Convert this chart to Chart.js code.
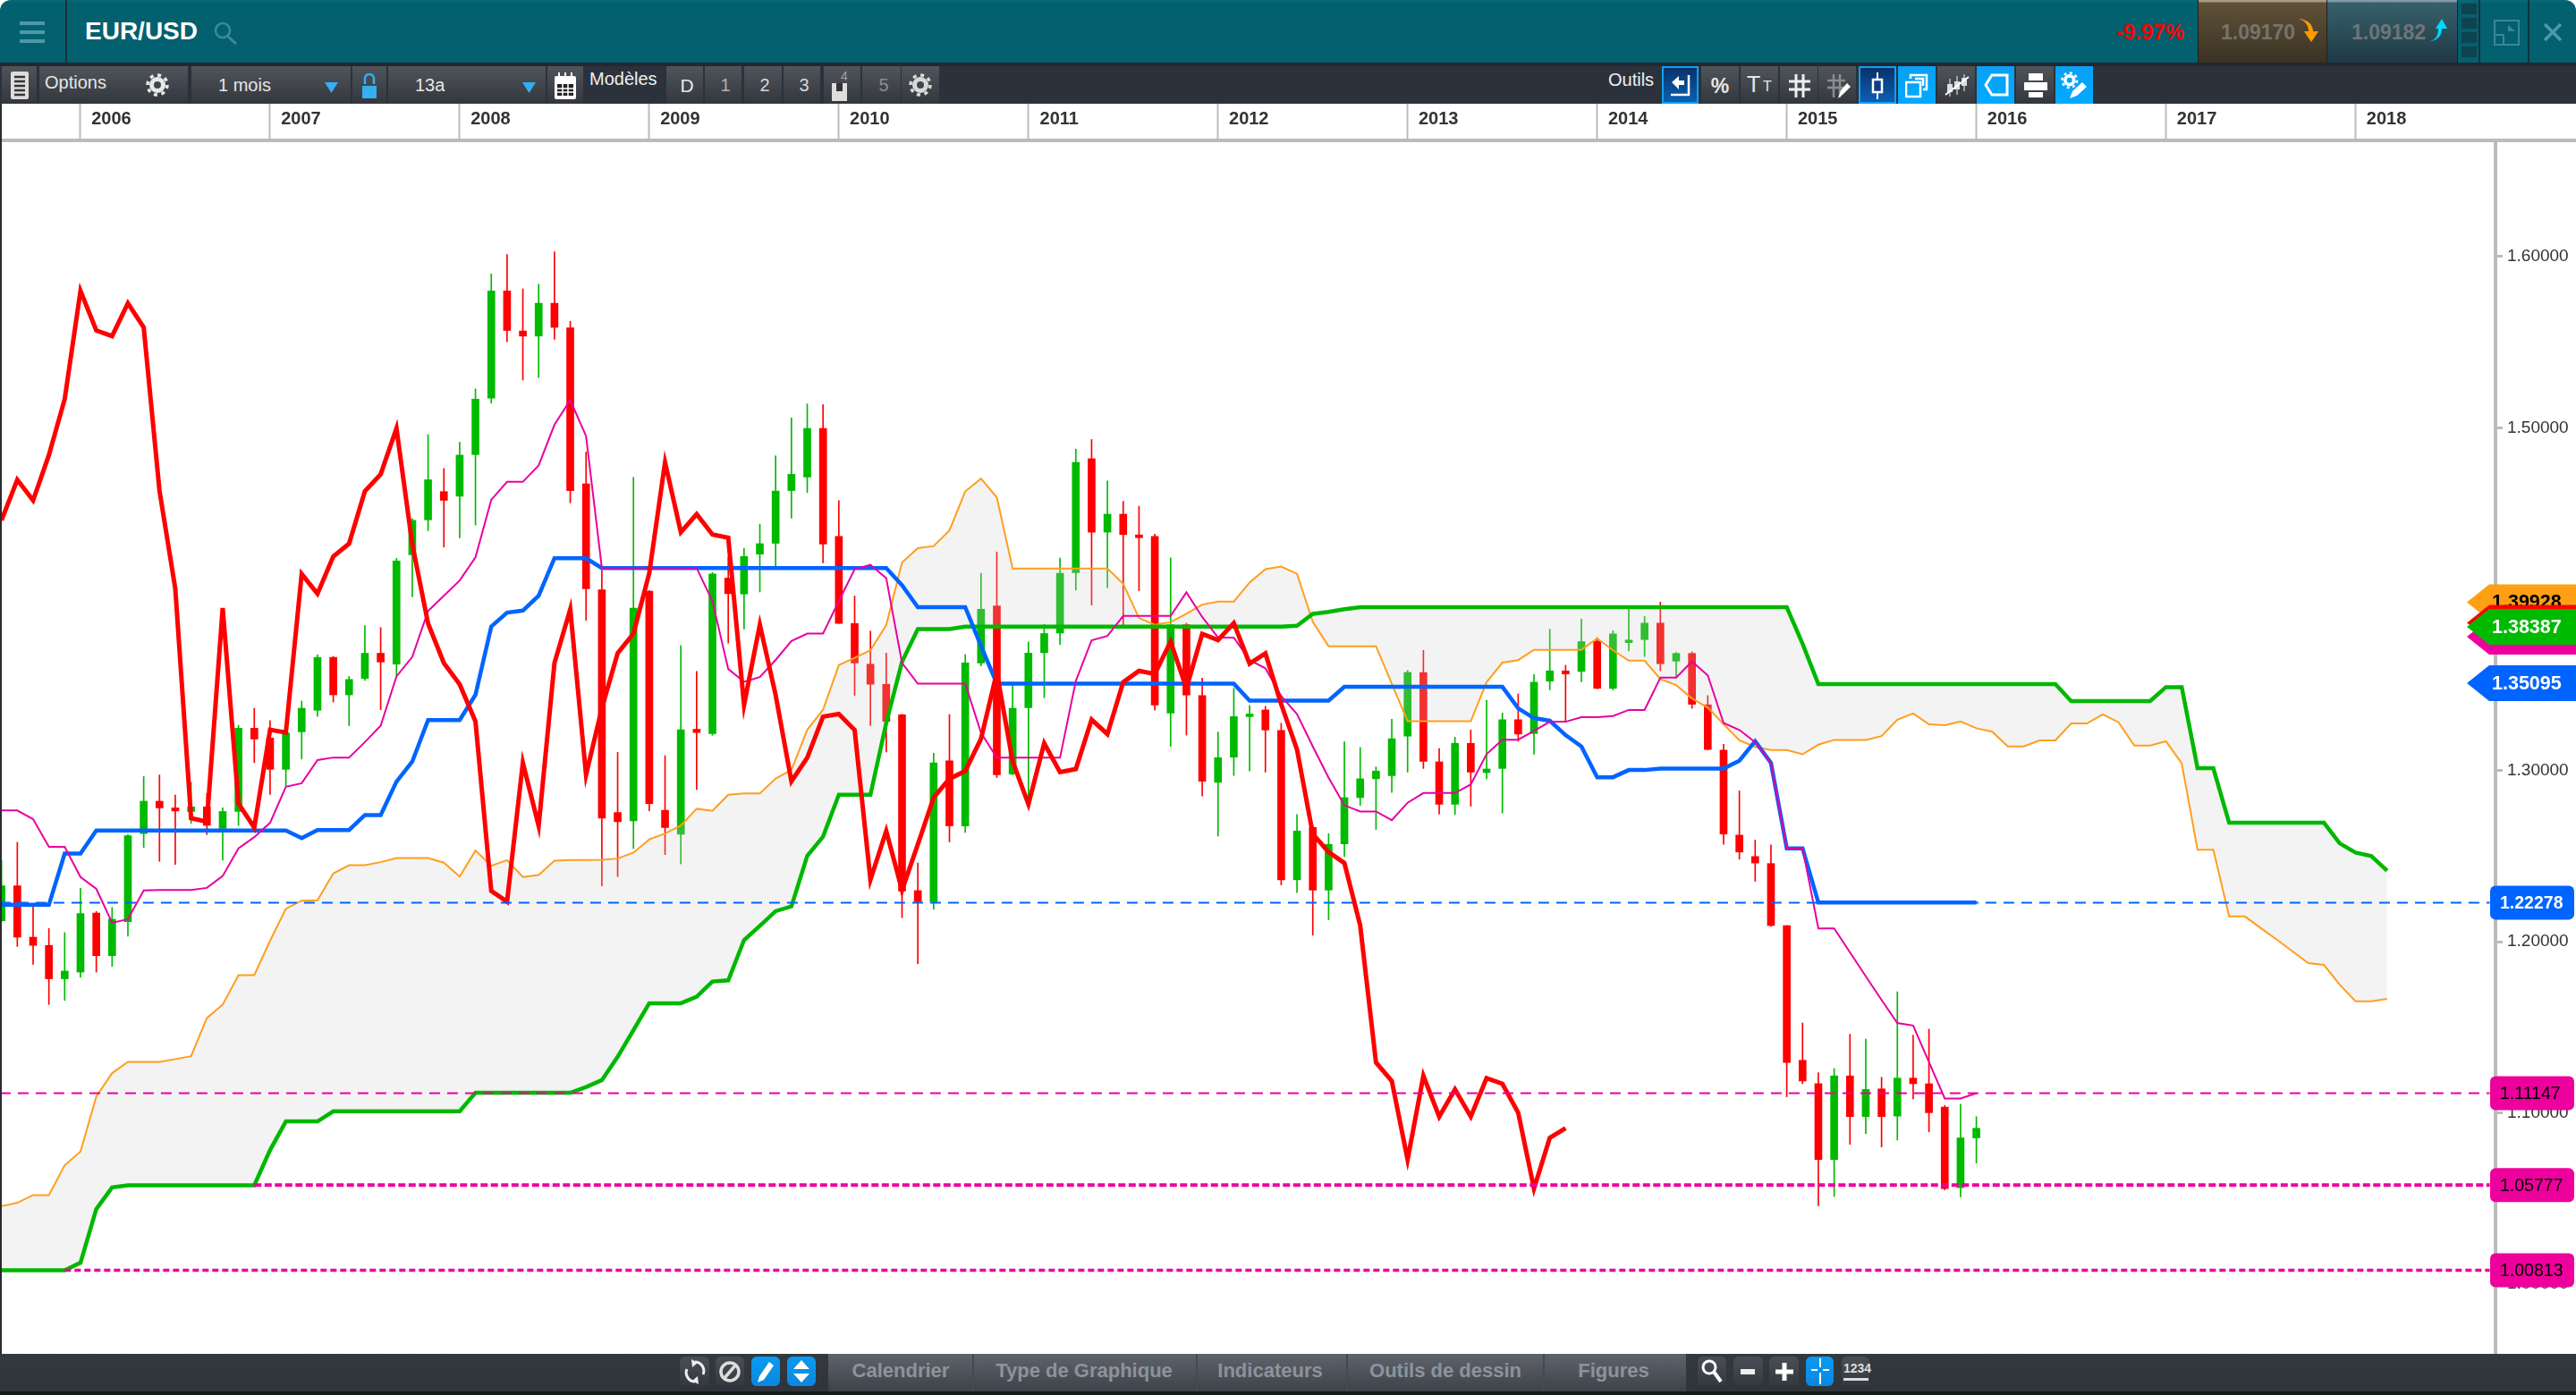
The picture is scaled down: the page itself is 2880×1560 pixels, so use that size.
<!DOCTYPE html>
<html lang="fr">
<head>
<meta charset="utf-8">
<title>EUR/USD</title>
<script src="https://cdn.jsdelivr.net/npm/chart.js@4/dist/chart.umd.js"></script>
<style>
  html, body { margin: 0; padding: 0; background: #fff; overflow: hidden; }
  body { width: 2880px; height: 1560px; position: relative; font-family: "Liberation Sans", Arial, sans-serif; }
  #screen div, #screen svg { position: absolute; }
  canvas { position: absolute; left: 0; top: 116px; }
  .txt { white-space: nowrap; line-height: 1; }
  .btn { top: 74px; height: 42px; background: linear-gradient(#50545b, #33373d); }
  .sel { background: linear-gradient(#0a2f66, #0a62b8); box-shadow: inset 0 0 0 2px #10a0f0; }
  .blue { background: linear-gradient(#0aa0f5, #00aaff); }
  .low { top: 1517px; height: 33px; border-radius: 6px; background: linear-gradient(#4a4f55, #33383e); }
  .lowblue { background: linear-gradient(#0a9bf0, #0a86e0); }
</style>
</head>
<body>
<div id="screen"></div>
<canvas id="chart" width="2880" height="1398"></canvas>
<script>
// candles, one per month, first one is Aug 2005 (index -5), index 0 is Jan 2006
const firstIndex = -5;

const opens = [
  1.2122, 1.2326, 1.2026, 1.1978, 1.1783,
  1.1822, 1.2167, 1.1918, 1.2116, 1.2631, 1.2820, 1.2781, 1.2760, 1.2787, 1.2661,
  1.2760, 1.3246, 1.3189, 1.3006, 1.3225, 1.3351, 1.3660, 1.3441, 1.3537, 1.3684,
  1.3621, 1.4259, 1.4463, 1.4628, 1.4601, 1.4844, 1.5174, 1.5800, 1.5566, 1.5536,
  1.5728, 1.5584, 1.4673, 1.4055, 1.2754, 1.2706, 1.4046, 1.2767, 1.2627, 1.3240,
  1.3214, 1.4123, 1.4030, 1.4263, 1.4326, 1.4634, 1.4713, 1.4997, 1.4366, 1.3858,
  1.3620, 1.3503, 1.3324, 1.2298, 1.2233, 1.3056, 1.2676, 1.3627, 1.3960, 1.2979,
  1.3366, 1.3687, 1.3802, 1.4154, 1.4820, 1.4391, 1.4496, 1.4375, 1.4366, 1.3335,
  1.3851, 1.3437, 1.2930, 1.3077, 1.3314, 1.3353, 1.3233, 1.2361, 1.2667, 1.2301,
  1.2571, 1.2841, 1.2951, 1.2969, 1.3200, 1.3572, 1.3050, 1.2802, 1.3158, 1.2987,
  1.3011, 1.3296, 1.3215, 1.3521, 1.3581, 1.3578, 1.3755, 1.3479, 1.3746, 1.3764,
  1.3860, 1.3638, 1.3683, 1.3383, 1.3119, 1.2622, 1.2497, 1.2456, 1.2094, 1.1307,
  1.1170, 1.0727, 1.1216, 1.0978, 1.1140, 1.0981, 1.1203, 1.1170, 1.1034, 1.0563,
  1.0854
];
const closes = [
  1.2326, 1.2026, 1.1978, 1.1783, 1.1828,
  1.2164, 1.1918, 1.2131, 1.2619, 1.2820, 1.2781, 1.2763, 1.2787, 1.2679, 1.2760,
  1.3246, 1.3183, 1.3006, 1.3219, 1.3363, 1.3660, 1.3441, 1.3531, 1.3684, 1.3633,
  1.4223, 1.4460, 1.4697, 1.4577, 1.4841, 1.5168, 1.5800, 1.5569, 1.5536, 1.5728,
  1.5587, 1.4634, 1.4061, 1.2721, 1.2700, 1.3948, 1.2806, 1.2666, 1.3237, 1.3221,
  1.4147, 1.4032, 1.4249, 1.4324, 1.4631, 1.4729, 1.4997, 1.4321, 1.3858, 1.3627,
  1.3503, 1.3286, 1.2296, 1.2233, 1.3044, 1.2676, 1.3627, 1.3941, 1.2974, 1.3363,
  1.3685, 1.3799, 1.4151, 1.4799, 1.4391, 1.4496, 1.4377, 1.4359, 1.3382, 1.3851,
  1.3440, 1.2936, 1.3074, 1.3314, 1.3329, 1.3236, 1.2361, 1.2646, 1.2301, 1.2568,
  1.2841, 1.2951, 1.2996, 1.3185, 1.3572, 1.3053, 1.2802, 1.3158, 1.2990, 1.3008,
  1.3296, 1.3212, 1.3515, 1.3581, 1.3563, 1.3752, 1.3479, 1.3797, 1.3761, 1.3860,
  1.3623, 1.3683, 1.3386, 1.3122, 1.2628, 1.2523, 1.2459, 1.2094, 1.1294, 1.1186,
  1.0727, 1.1216, 1.0978, 1.1137, 1.0978, 1.1203, 1.1170, 1.1001, 1.0558, 1.0854,
  1.0910
];
const highs = [
  1.2476, 1.2580, 1.2206, 1.2077, 1.2053,
  1.2311, 1.2176, 1.2200, 1.2625, 1.2964, 1.2973, 1.2856, 1.2931, 1.2865, 1.2781,
  1.3264, 1.3363, 1.3291, 1.3231, 1.3405, 1.3675, 1.3666, 1.3549, 1.3846, 1.3834,
  1.4238, 1.4469, 1.4961, 1.4763, 1.4916, 1.5228, 1.5899, 1.6013, 1.5812, 1.5839,
  1.6028, 1.5623, 1.4859, 1.4169, 1.3105, 1.4711, 1.4051, 1.3086, 1.3729, 1.3578,
  1.4156, 1.4245, 1.4296, 1.4438, 1.4837, 1.5058, 1.5140, 1.5135, 1.4575, 1.4018,
  1.3813, 1.3685, 1.3328, 1.2459, 1.3100, 1.3326, 1.3676, 1.4151, 1.4275, 1.3499,
  1.3750, 1.3853, 1.4240, 1.4876, 1.4932, 1.4690, 1.4571, 1.4543, 1.4380, 1.4241,
  1.3860, 1.3539, 1.3224, 1.3479, 1.3380, 1.3374, 1.3275, 1.2742, 1.2676, 1.2631,
  1.3167, 1.3134, 1.3020, 1.3299, 1.3584, 1.3701, 1.3128, 1.3194, 1.3236, 1.3410,
  1.3335, 1.3446, 1.3560, 1.3824, 1.3614, 1.3884, 1.3776, 1.3815, 1.3950, 1.3899,
  1.3983, 1.3689, 1.3692, 1.3437, 1.3152, 1.2880, 1.2593, 1.2565, 1.2094, 1.1525,
  1.1234, 1.1259, 1.1459, 1.1431, 1.1208, 1.1707, 1.1454, 1.1489, 1.1044, 1.1051,
  1.0978
];
const lows = [
  1.2116, 1.1972, 1.1867, 1.1633, 1.1657,
  1.1792, 1.1822, 1.1855, 1.2032, 1.2550, 1.2469, 1.2451, 1.2691, 1.2625, 1.2476,
  1.2679, 1.3045, 1.2859, 1.2910, 1.3066, 1.3315, 1.3399, 1.3261, 1.3525, 1.3354,
  1.3555, 1.4014, 1.4400, 1.4304, 1.4358, 1.4433, 1.5144, 1.5503, 1.5279, 1.5294,
  1.5518, 1.4562, 1.3876, 1.2326, 1.2380, 1.2543, 1.2764, 1.2508, 1.2454, 1.2888,
  1.3205, 1.3743, 1.3825, 1.4042, 1.4186, 1.4473, 1.4622, 1.4212, 1.3858, 1.3438,
  1.3261, 1.3107, 1.2140, 1.1871, 1.2189, 1.2582, 1.2638, 1.3610, 1.2958, 1.2974,
  1.2804, 1.3424, 1.3736, 1.4053, 1.3965, 1.4067, 1.3844, 1.4049, 1.3352, 1.3140,
  1.3206, 1.2850, 1.2616, 1.2970, 1.2996, 1.2990, 1.2331, 1.2286, 1.2037, 1.2127,
  1.2496, 1.2796, 1.2655, 1.2871, 1.2990, 1.3011, 1.2745, 1.2742, 1.2790, 1.2951,
  1.2751, 1.3170, 1.3095, 1.3470, 1.3284, 1.3518, 1.3476, 1.3470, 1.3698, 1.3665,
  1.3581, 1.3539, 1.3362, 1.3119, 1.2568, 1.2481, 1.2352, 1.2089, 1.1094, 1.1170,
  1.0457, 1.0512, 1.0816, 1.0879, 1.0801, 1.0841, 1.1082, 1.0889, 1.0550, 1.0510,
  1.0707
];

// ichimoku lines, they all start at the first candle
const tenkan = [
  1.2766, 1.2766, 1.2715, 1.2553, 1.2553,
  1.2377, 1.2308, 1.2110, 1.2131, 1.2299, 1.2302, 1.2302, 1.2302, 1.2314, 1.2383,
  1.2545, 1.2610, 1.2694, 1.2904, 1.2925, 1.3060, 1.3075, 1.3075, 1.3165, 1.3261,
  1.3549, 1.3663, 1.3930, 1.4020, 1.4109, 1.4244, 1.4580, 1.4685, 1.4685, 1.4781,
  1.5018, 1.5162, 1.4952, 1.4182, 1.4182, 1.4182, 1.4182, 1.4182, 1.4182, 1.4182,
  1.3988, 1.3592, 1.3517, 1.3545, 1.3645, 1.3755, 1.3799, 1.3799, 1.3988, 1.4175,
  1.4200, 1.4123, 1.3627, 1.3506, 1.3506, 1.3506, 1.3506, 1.3219, 1.3074, 1.3074,
  1.3074, 1.3074, 1.3074, 1.3522, 1.3760, 1.3785, 1.3902, 1.3902, 1.3902, 1.3902,
  1.4040, 1.3896, 1.3776, 1.3776, 1.3644, 1.3596, 1.3434, 1.3329, 1.3140, 1.2957,
  1.2796, 1.2760, 1.2760, 1.2709, 1.2811, 1.2868, 1.2868, 1.2868, 1.2918, 1.3095,
  1.3179, 1.3179, 1.3230, 1.3284, 1.3284, 1.3311, 1.3311, 1.3317, 1.3353, 1.3353,
  1.3542, 1.3542, 1.3636, 1.3555, 1.3277, 1.3236, 1.3165, 1.3043, 1.2545, 1.2545,
  1.2077, 1.2077, 1.1937, 1.1798, 1.1659, 1.1525, 1.1510, 1.1297, 1.1084, 1.1084,
  1.1115
];
const kijun = [
  1.2215, 1.2215, 1.2215, 1.2215, 1.2514,
  1.2514, 1.2649, 1.2649, 1.2649, 1.2649, 1.2649, 1.2649, 1.2649, 1.2649, 1.2649,
  1.2649, 1.2649, 1.2649, 1.2649, 1.2604, 1.2652, 1.2652, 1.2652, 1.2739, 1.2739,
  1.2934, 1.3051, 1.3294, 1.3294, 1.3294, 1.3441, 1.3840, 1.3921, 1.3933, 1.4020,
  1.4239, 1.4239, 1.4239, 1.4182, 1.4182, 1.4182, 1.4182, 1.4182, 1.4182, 1.4182,
  1.4182, 1.4182, 1.4182, 1.4182, 1.4182, 1.4182, 1.4182, 1.4182, 1.4182, 1.4182,
  1.4182, 1.4182, 1.4081, 1.3953, 1.3953, 1.3953, 1.3953, 1.3727, 1.3506, 1.3506,
  1.3506, 1.3506, 1.3506, 1.3506, 1.3506, 1.3506, 1.3506, 1.3506, 1.3506, 1.3506,
  1.3506, 1.3506, 1.3506, 1.3506, 1.3407, 1.3407, 1.3407, 1.3407, 1.3407, 1.3407,
  1.3488, 1.3488, 1.3488, 1.3488, 1.3488, 1.3488, 1.3488, 1.3488, 1.3488, 1.3488,
  1.3488, 1.3362, 1.3305, 1.3290, 1.3206, 1.3140, 1.2960, 1.2960, 1.3002, 1.3002,
  1.3011, 1.3011, 1.3011, 1.3011, 1.3011, 1.3056, 1.3170, 1.3043, 1.2545, 1.2545,
  1.2228, 1.2228, 1.2228, 1.2228, 1.2228, 1.2228, 1.2228, 1.2228, 1.2228, 1.2228,
  1.2228
];
const chikou = [
  1.4460, 1.4697, 1.4577, 1.4841, 1.5168,
  1.5800, 1.5569, 1.5536, 1.5728, 1.5587, 1.4634, 1.4061, 1.2721, 1.2700, 1.3948,
  1.2806, 1.2666, 1.3237, 1.3221, 1.4147, 1.4032, 1.4249, 1.4324, 1.4631, 1.4729,
  1.4997, 1.4321, 1.3858, 1.3627, 1.3503, 1.3286, 1.2296, 1.2233, 1.3044, 1.2676,
  1.3627, 1.3941, 1.2974, 1.3363, 1.3685, 1.3799, 1.4151, 1.4799, 1.4391, 1.4496,
  1.4377, 1.4359, 1.3382, 1.3851, 1.3440, 1.2936, 1.3074, 1.3314, 1.3329, 1.3236,
  1.2361, 1.2646, 1.2301, 1.2568, 1.2841, 1.2951, 1.2996, 1.3185, 1.3572, 1.3053,
  1.2802, 1.3158, 1.2990, 1.3008, 1.3296, 1.3212, 1.3515, 1.3581, 1.3563, 1.3752,
  1.3479, 1.3797, 1.3761, 1.3860, 1.3623, 1.3683, 1.3386, 1.3122, 1.2628, 1.2523,
  1.2459, 1.2094, 1.1294, 1.1186, 1.0727, 1.1216, 1.0978, 1.1137, 1.0978, 1.1203,
  1.1170, 1.1001, 1.0558, 1.0854, 1.0910
];
const senkouA = [
  1.0455, 1.0475, 1.0520, 1.0520, 1.0694,
  1.0774, 1.1096, 1.1232, 1.1298, 1.1298, 1.1298, 1.1314, 1.1331, 1.1554, 1.1632,
  1.1804, 1.1804, 1.2005, 1.2192, 1.2239, 1.2241, 1.2398, 1.2446, 1.2446, 1.2464,
  1.2488, 1.2488, 1.2488, 1.2461, 1.2380, 1.2532, 1.2443, 1.2476, 1.2377, 1.2389,
  1.2473, 1.2476, 1.2476, 1.2478, 1.2485, 1.2520, 1.2597, 1.2631, 1.2678, 1.2776,
  1.2764, 1.2858, 1.2865, 1.2865, 1.2953, 1.3002, 1.3237, 1.3354, 1.3615, 1.3657,
  1.3701, 1.3848, 1.4214, 1.4298, 1.4310, 1.4401, 1.4629, 1.4704, 1.4594, 1.4179,
  1.4179, 1.4179, 1.4179, 1.4179, 1.4179, 1.4179, 1.4090, 1.3890, 1.3850, 1.3866,
  1.3914, 1.3968, 1.3986, 1.3986, 1.4097, 1.4175, 1.4190, 1.4148, 1.3866, 1.3725,
  1.3725, 1.3725, 1.3725, 1.3506, 1.3287, 1.3287, 1.3287, 1.3287, 1.3287, 1.3515,
  1.3629, 1.3644, 1.3704, 1.3704, 1.3704, 1.3704, 1.3770, 1.3701, 1.3641, 1.3641,
  1.3533, 1.3498, 1.3420, 1.3366, 1.3270, 1.3175, 1.3137, 1.3119, 1.3119, 1.3094,
  1.3150, 1.3178, 1.3178, 1.3178, 1.3200, 1.3296, 1.3332, 1.3269, 1.3264, 1.3286,
  1.3246, 1.3226, 1.3140, 1.3140, 1.3175, 1.3175, 1.3274, 1.3274, 1.3327, 1.3281,
  1.3145, 1.3145, 1.3170, 1.3041, 1.2537, 1.2537, 1.2147, 1.2147, 1.2079, 1.2013,
  1.1944, 1.1875, 1.1864, 1.1749, 1.1652, 1.1652, 1.1666
];
const senkouB = [
  1.0081, 1.0081, 1.0081, 1.0081, 1.0081,
  1.0125, 1.0438, 1.0565, 1.0577, 1.0577, 1.0577, 1.0577, 1.0577, 1.0577, 1.0577,
  1.0577, 1.0577, 1.0783, 1.0950, 1.0950, 1.0950, 1.1009, 1.1009, 1.1009, 1.1009,
  1.1009, 1.1009, 1.1009, 1.1009, 1.1009, 1.1117, 1.1117, 1.1117, 1.1117, 1.1117,
  1.1117, 1.1117, 1.1151, 1.1191, 1.1327, 1.1483, 1.1640, 1.1640, 1.1640, 1.1678,
  1.1767, 1.1774, 1.2009, 1.2092, 1.2178, 1.2206, 1.2501, 1.2613, 1.2858, 1.2858,
  1.2858, 1.3277, 1.3634, 1.3825, 1.3825, 1.3825, 1.3839, 1.3839, 1.3839, 1.3839,
  1.3839, 1.3839, 1.3839, 1.3839, 1.3839, 1.3839, 1.3839, 1.3839, 1.3839, 1.3839,
  1.3839, 1.3839, 1.3839, 1.3839, 1.3839, 1.3839, 1.3839, 1.3845, 1.3914, 1.3926,
  1.3941, 1.3953, 1.3953, 1.3953, 1.3953, 1.3953, 1.3953, 1.3953, 1.3953, 1.3953,
  1.3953, 1.3953, 1.3953, 1.3953, 1.3953, 1.3953, 1.3953, 1.3953, 1.3953, 1.3953,
  1.3953, 1.3953, 1.3953, 1.3953, 1.3953, 1.3953, 1.3953, 1.3953, 1.3953, 1.3739,
  1.3504, 1.3504, 1.3504, 1.3504, 1.3504, 1.3504, 1.3504, 1.3504, 1.3504, 1.3504,
  1.3504, 1.3504, 1.3504, 1.3504, 1.3504, 1.3504, 1.3405, 1.3405, 1.3405, 1.3405,
  1.3405, 1.3405, 1.3486, 1.3486, 1.3013, 1.3013, 1.2694, 1.2694, 1.2694, 1.2694,
  1.2694, 1.2694, 1.2694, 1.2574, 1.2520, 1.2500, 1.2414
];

// axes
const yearTicks = [0, 12, 24, 36, 48, 60, 72, 84, 96, 108, 120, 132, 144];
const yearLabels = ["2006", "2007", "2008", "2009", "2010", "2011", "2012", "2013", "2014", "2015", "2016", "2017", "2018"];
const priceTicks = [1.0, 1.1, 1.2, 1.3, 1.4, 1.5, 1.6];

// horizontal levels, start index of each
const levelPrices = [1.22278, 1.11147, 1.05777, 1.00813];
const levelStarts = [-5.1, -5.1, 11, -1];
const levelEnd = 152.5;

// tags on the price axis
const flagPrices = [1.3982, 1.3861, 1.3781, 1.38387, 1.35095];
const flagTexts = ["1.39928", "", "", "1.38387", "1.35095"];
const flagColors = ["#ff9f14", "#ff0000", "#ee009c", "#00ba00", "#0064ff"];
const flagInk = ["#000", "#fff", "#fff", "#fff", "#fff"];
const boxPrices = [1.22278, 1.11147, 1.05777, 1.00813];
const boxTexts = ["1.22278", "1.11147", "1.05777", "1.00813"];
const boxColors = ["#0064ff", "#ee009c", "#ee009c", "#ee009c"];
const boxInk = ["#fff", "#000", "#000", "#000"];

const GREEN = "#00ba00";
const RED = "#ff0000";

const toPoints = (values) => values.map((y, k) => ({ x: firstIndex + k, y }));
const candleColors = opens.map((o, k) => (closes[k] >= o ? GREEN : RED));
const bodies = opens.map((o, k) => ({ x: firstIndex + k, y: [o, closes[k]] }));
const wicks = lows.map((l, k) => ({ x: firstIndex + k, y: [l, highs[k]] }));

function lineSet(label, values, color, width, order, extra) {
  return Object.assign({
    type: "line", label, data: toPoints(values), borderColor: color, borderWidth: width,
    pointRadius: 0, tension: 0, fill: false, order, borderJoinStyle: "miter",
  }, extra || {});
}

function levelSet(k, color, width, dash) {
  return {
    type: "line", label: "level " + levelPrices[k], borderColor: color, borderWidth: width, borderDash: dash,
    data: [{ x: levelStarts[k], y: levelPrices[k] }, { x: levelEnd, y: levelPrices[k] }],
    pointRadius: 0, fill: false, order: 0, clip: false,
  };
}

// price tags are drawn on top of the axis, placed through the price scale
const priceTags = {
  id: "priceTags",
  afterDraw(chart) {
    const { ctx, scales } = chart;
    ctx.save();
    ctx.textBaseline = "middle";
    ctx.textAlign = "left";
    ctx.font = "bold 21.5px 'Liberation Sans', Arial, sans-serif";
    flagPrices.forEach((p, k) => {
      const y = scales.y.getPixelForValue(p);
      ctx.fillStyle = flagColors[k];
      ctx.beginPath();
      ctx.moveTo(2758, y);
      ctx.lineTo(2783, y - 20);
      ctx.lineTo(2880, y - 20);
      ctx.lineTo(2880, y + 20);
      ctx.lineTo(2783, y + 20);
      ctx.closePath();
      ctx.fill();
      if (flagTexts[k]) {
        ctx.fillStyle = flagInk[k];
        ctx.fillText(flagTexts[k], 2786, y + 1);
      }
    });
    boxPrices.forEach((p, k) => {
      const y = scales.y.getPixelForValue(p);
      ctx.fillStyle = boxColors[k];
      ctx.beginPath();
      ctx.roundRect(2784, y - 19, 94, 38, 6);
      ctx.fill();
      ctx.fillStyle = boxInk[k];
      ctx.font = (boxInk[k] === "#fff" ? "bold " : "") + "19.5px 'Liberation Sans', Arial, sans-serif";
      ctx.fillText(boxTexts[k], 2795, y + 1);
    });
    ctx.restore();
  },
};

new Chart(document.getElementById("chart").getContext("2d"), {
  data: {
    datasets: [
      { type: "bar", label: "wicks", data: wicks, backgroundColor: candleColors, barThickness: 1, grouped: false, order: 11 },
      { type: "bar", label: "bodies", data: bodies, backgroundColor: candleColors, barThickness: 8, grouped: false, order: 10 },
      lineSet("Senkou A", senkouA, "#ff9f1c", 2, 5, { fill: { target: "+1", above: "rgba(205,205,205,0.24)", below: "rgba(205,205,205,0.24)" } }),
      lineSet("Senkou B", senkouB, "#00b800", 4.5, 4),
      lineSet("Kijun", kijun, "#0064ff", 4.5, 3),
      lineSet("Tenkan", tenkan, "#e800a0", 2, 2),
      lineSet("Chikou", chikou, "#ff0000", 5, 1),
      levelSet(0, "#0064ff", 2, [12, 8]),
      levelSet(1, "#ee009c", 2, [12, 8]),
      levelSet(2, "#ee009c", 4, [8, 3.5]),
      levelSet(3, "#ee009c", 3.5, [7, 4]),
    ],
  },
  options: {
    responsive: false,
    animation: false,
    devicePixelRatio: 1,
    events: [],
    layout: { padding: 0 },
    plugins: { legend: { display: false }, tooltip: { enabled: false }, filler: { propagate: false } },
    scales: {
      x: {
        type: "linear",
        position: "top",
        offset: false,
        min: -5.095,
        max: 152.86,
        afterBuildTicks(scale) { scale.ticks = yearTicks.map((value) => ({ value })); },
        afterFit(scale) { scale.height = 43; scale.paddingLeft = 0; scale.paddingRight = 0; },
        border: { display: false },
        grid: { offset: false, drawOnChartArea: false, drawTicks: true, tickLength: 43, tickWidth: 2, color: "#bbbbbb", tickColor: "#bbbbbb" },
        ticks: {
          autoSkip: false, maxRotation: 0, minRotation: 0, padding: -29.5, labelOffset: 34.5,
          color: "#333333", font: { family: "'Liberation Sans', Arial, sans-serif", size: 20, weight: "bold" },
          callback: (value) => yearLabels[yearTicks.indexOf(value)],
        },
      },
      y: {
        type: "linear",
        position: "right",
        min: 0.95927,
        max: 1.66684,
        afterBuildTicks(scale) { scale.ticks = priceTicks.map((value) => ({ value })); },
        afterFit(scale) { scale.width = 90; scale.paddingTop = 0; scale.paddingBottom = 0; },
        border: { display: true, color: "#bbbbbb", width: 4 },
        grid: { drawOnChartArea: false, drawTicks: true, tickLength: 8, tickWidth: 3, tickColor: "#bbbbbb" },
        ticks: {
          padding: 5, color: "#333333", font: { family: "'Liberation Sans', Arial, sans-serif", size: 19 },
          callback: (value) => value.toFixed(5),
        },
      },
    },
  },
  plugins: [priceTags],
});

// window chrome around the chart
const screenEl = document.getElementById("screen");

function box(x, y, w, h, css, html, cls) {
  const d = document.createElement("div");
  d.style.cssText = `left:${x}px;top:${y}px;width:${w}px;height:${h}px;${css || ""}`;
  if (cls) d.className = cls;
  if (html) d.innerHTML = html;
  screenEl.appendChild(d);
  return d;
}

function label(text, x, y, size, color, weight) {
  const d = document.createElement("div");
  d.className = "txt";
  d.textContent = text;
  d.style.cssText = `left:${x}px;top:${y - size / 2}px;font-size:${size}px;color:${color};font-weight:${weight || "normal"};z-index:5`;
  screenEl.appendChild(d);
  return d;
}

function centered(text, cx, y, size, color, weight) {
  const d = label(text, cx, y, size, color, weight);
  d.style.transform = "translateX(-50%)";
  return d;
}

function svg(x, y, w, h, body) {
  return box(x, y, w, h, "z-index:6", `<svg style="left:0;top:0" width="${w}" height="${h}" viewBox="0 0 ${w} ${h}">${body}</svg>`);
}

// top bar
box(0, 0, 2880, 70, "background:linear-gradient(#0a6a78 0,#03606f 4px);border-radius:12px 12px 0 0");
box(0, 70, 2880, 4, "background:#23272f");
box(73, 0, 2, 70, "background:#16313a");
box(22, 24, 28, 4, "background:#4f98a5");
box(22, 34, 28, 4, "background:#4f98a5");
box(22, 44, 28, 4, "background:#4f98a5");
label("EUR/USD", 95, 35, 28, "#ffffff", "bold");
svg(238, 24, 30, 26, '<circle cx="11" cy="10" r="8" fill="none" stroke="#3f8a98" stroke-width="2.5"/><line x1="16" y1="16" x2="26" y2="25" stroke="#3f8a98" stroke-width="3"/>');
label("-9.97%", 2366, 36, 24, "#ff0000", "bold");
box(2457, 0, 145, 70, "background:linear-gradient(#a89a80 0,#a89a80 2px,#5f5238 3px,#3b3224);border-left:1px solid #222;border-right:1px solid #222;box-sizing:border-box");
box(2602, 0, 146, 70, "background:linear-gradient(#7f9aa3 0,#7f9aa3 2px,#36606b 3px,#1f3a45);border-right:1px solid #222;box-sizing:border-box");
label("1.09170", 2483, 36, 23, "#77736c", "bold");
label("1.09182", 2629, 36, 23, "#6f7578", "bold");
svg(2569, 20, 26, 28, '<path d="M1 1 C12 2 17 8 17 15 L23 15 L15 27 L7 15 L12 15 C12 8 8 3 1 1Z" fill="#ff9a00"/>');
svg(2716, 20, 24, 28, '<path d="M1 26 C10 25 14 19 14 12 L20 12 L14 1 L7 12 L10 12 C10 19 8 24 1 26Z" fill="#00d8ff"/>');
[4, 20, 36, 52].forEach((y) => box(2752, y, 17, 12, "background:#0e4350"));
box(2771, 0, 2, 70, "background:#16313a");
box(2826, 0, 2, 70, "background:#16313a");
svg(2788, 22, 30, 30, '<rect x="1" y="1" width="27" height="27" fill="none" stroke="#3a8795" stroke-width="2"/><rect x="1" y="17" width="10" height="11" fill="#03606f" stroke="#3a8795" stroke-width="2"/><path d="M16 6 L16 13 L24 13Z" fill="#3a8795"/>');
svg(2843, 26, 22, 20, '<path d="M2 1 L20 19 M20 1 L2 19" stroke="#4f98a5" stroke-width="3.5"/>');

// option toolbar
box(0, 74, 2880, 42, "background:#2c323c");
const BTN_L = [[2, 39], [44, 166], [214, 178], [394, 38], [434, 176], [612, 40], [745, 41], [788, 41], [832, 42], [876, 41], [921, 41], [964, 43], [1008, 42]];
BTN_L.forEach(([x, w]) => box(x, 74, w, 42, "", "", "btn"));
const BTN_R = [[1902, 42], [1946, 42], [1990, 42], [2033, 42], [2166, 42], [2254, 42]];
BTN_R.forEach(([x, w]) => box(x, 74, w, 42, "", "", "btn"));
[[1858, 41], [2078, 42]].forEach(([x, w]) => box(x, 74, w, 42, "box-sizing:border-box", "", "btn sel"));
[[2122, 42], [2210, 42], [2298, 42]].forEach(([x, w]) => box(x, 74, w, 42, "", "", "btn blue"));

label("Options", 50, 92, 20, "#e6e6e6");
label("1 mois", 244, 95, 20, "#e6e6e6");
label("13a", 464, 95, 20, "#e6e6e6");
label("Modèles", 659, 88, 20, "#f0f0f0");
label("Outils", 1798, 89, 20, "#f0f0f0");
centered("D", 768, 95, 21, "#e6e6e6");
centered("1", 811, 95, 20, "#aeb1b5");
centered("2", 855, 95, 20, "#d8d8d8");
centered("3", 899, 95, 20, "#d8d8d8");
centered("4", 944, 85, 14, "#a0a3a8");
centered("5", 988, 95, 20, "#8a8d92");

const GEAR = (c) => `<circle cx="13" cy="13" r="6.5" fill="none" stroke="${c}" stroke-width="5"/><circle cx="13" cy="13" r="11" fill="none" stroke="${c}" stroke-width="3.5" stroke-dasharray="4 4.6"/>`;
svg(163, 82, 26, 26, GEAR("#e8e8e8"));
svg(1016, 82, 26, 26, GEAR("#d8d8d8"));
svg(10, 79, 24, 34, '<rect x="2" y="1" width="20" height="31" rx="2" fill="#ddd"/><path d="M6 7H18M6 12H18M6 17H18M6 22H18M6 27H18" stroke="#333" stroke-width="2.4"/>');
const ARROW = '<path d="M0 0H15L7.5 12Z" fill="#36aef0"/>';
svg(363, 92, 15, 12, ARROW);
svg(584, 92, 15, 12, ARROW);
svg(403, 82, 20, 30, '<path d="M5 12V6a5 5 0 0 1 10 0V12" fill="none" stroke="#36aef0" stroke-width="2.5"/><rect x="2" y="14" width="16" height="14" fill="#36aef0"/>');
svg(619, 80, 26, 32, '<rect x="1" y="5" width="24" height="26" rx="2" fill="#fff"/><rect x="4" y="14" width="18" height="13" fill="#222"/><path d="M4 19H22M4 23H22M10 14V27M16 14V27" stroke="#fff" stroke-width="1.5"/><path d="M6 1V8M13 1V8M20 1V8" stroke="#fff" stroke-width="2"/>');
svg(928, 92, 22, 22, '<rect x="2" y="1" width="17" height="20" fill="#ddd"/><rect x="7" y="1" width="7" height="9" fill="#333"/>');

// tool buttons on the right
svg(1866, 82, 28, 28, '<path d="M3 10 L11 3 V8 H17 V13 H11 V18Z" fill="#fff"/><path d="M22 2 V24 H2" fill="none" stroke="#fff" stroke-width="2.5"/>');
centered("%", 1923, 96, 23, "#e6e6e6", "bold");
label("T", 1953, 94, 25, "#e6e6e6");
label("T", 1971, 97, 16, "#e6e6e6");
svg(1999, 82, 26, 28, '<path d="M9 1V27M17 1V27M1 9H25M1 18H25" stroke="#eee" stroke-width="3"/>');
svg(2042, 82, 28, 30, '<path d="M8 1V27M15 1V27M1 8H21M1 16H21" stroke="#8d8d8d" stroke-width="2.5"/><path d="M13 28 L16 19 L23 11 L27 15 L19 23Z" fill="#fff"/>');
svg(2088, 80, 22, 32, '<path d="M11 1V31" stroke="#fff" stroke-width="2"/><rect x="6" y="9" width="10" height="14" fill="#0a3d86" stroke="#fff" stroke-width="2.5"/>');
svg(2130, 82, 28, 28, '<rect x="1" y="10" width="16" height="16" fill="none" stroke="#fff" stroke-width="2.5"/><path d="M6 6V2H24V18H20M11 6H20V14" fill="none" stroke="#fff" stroke-width="2.5"/>');
svg(2174, 82, 28, 30, '<path d="M6 6V26M14 3V24M22 1V20" stroke="#bbb" stroke-width="1.5"/><rect x="3" y="12" width="6" height="9" fill="#ddd"/><rect x="11" y="9" width="6" height="9" fill="#ddd"/><rect x="19" y="5" width="6" height="9" fill="#ddd"/><path d="M1 24 L27 4" stroke="#fff" stroke-width="2"/>');
svg(2218, 82, 28, 26, '<path d="M26 2 H9 L2 13 L9 24 H26Z" fill="none" stroke="#fff" stroke-width="3"/>');
svg(2262, 81, 28, 30, '<rect x="6" y="1" width="16" height="8" fill="#fff"/><rect x="1" y="11" width="26" height="9" fill="#fff"/><rect x="6" y="22" width="16" height="6" fill="#fff"/>');
svg(2304, 80, 30, 32, `<g transform="scale(.75)">${GEAR("#fff")}</g><path d="M10 30 L13 22 L24 12 L29 17 L18 27Z" fill="#fff"/>`);

// time axis band
box(0, 116, 2880, 39, "background:#fff;z-index:-1");
box(0, 155, 2880, 4, "background:#bbbbbb;z-index:4");
box(0, 116, 2, 1398, "background:#2a2a2e;z-index:4");

// bottom bar
box(0, 1514, 2880, 42, "background:linear-gradient(#33393f,#2e343a);z-index:4");
box(926, 1514, 959, 42, "background:linear-gradient(#5f646c,#3d4249);z-index:4");
box(0, 1556, 2880, 4, "background:#121a1a;z-index:4");
[1087, 1337, 1505, 1725].forEach((x) => box(x, 1514, 2, 42, "background:#444a51;z-index:5"));
[[760, 33], [800, 32], [1898, 32], [1938, 33], [1978, 33], [2059, 31]].forEach(([x, w]) => box(x, 1517, w, 33, "z-index:5", "", "low"));
[[840, 32], [880, 32], [2019, 31]].forEach(([x, w]) => box(x, 1517, w, 33, "z-index:5", "", "low lowblue"));
centered("Calendrier", 1007, 1533, 22, "#8d939b", "bold");
centered("Type de Graphique", 1212, 1533, 22, "#8d939b", "bold");
centered("Indicateurs", 1420, 1533, 22, "#8d939b", "bold");
centered("Outils de dessin", 1616, 1533, 22, "#8d939b", "bold");
centered("Figures", 1804, 1533, 22, "#8d939b", "bold");
svg(764, 1520, 26, 28, '<path d="M13 3 A10 10 0 0 1 22 17 M13 25 A10 10 0 0 1 4 11" fill="none" stroke="#eee" stroke-width="3"/><path d="M9 0 L16 4 L10 9Z M17 28 L10 24 L16 19Z" fill="#eee"/>');
svg(804, 1520, 25, 27, '<circle cx="12" cy="14" r="10" fill="none" stroke="#ddd" stroke-width="3.5"/><path d="M6 21 L18 7" stroke="#ddd" stroke-width="3.5"/>');
svg(844, 1520, 24, 27, '<path d="M3 26 L5 19 L16 3 L21 7 L10 23Z" fill="#fff"/>');
svg(884, 1520, 24, 27, '<path d="M12 1 L21 11 H3Z M12 26 L21 16 H3Z" fill="#fff"/>');
svg(1902, 1520, 24, 27, '<circle cx="9" cy="9" r="7" fill="none" stroke="#fff" stroke-width="3"/><path d="M14 14 L22 25" stroke="#fff" stroke-width="4"/>');
svg(1944, 1530, 20, 8, '<rect x="2" y="1" width="16" height="6" fill="#eee"/>');
svg(1984, 1523, 22, 22, '<path d="M11 1V21M1 11H21" stroke="#fff" stroke-width="5"/>');
svg(2023, 1518, 24, 31, '<path d="M12 1V11M12 17V30M2 14H9M15 14H22" stroke="#fff" stroke-width="2"/>');
label("1234", 2061, 1530, 14, "#ddd", "bold");
box(2061, 1541, 28, 3, "background:#ddd;z-index:6");
</script>
</body>
</html>
